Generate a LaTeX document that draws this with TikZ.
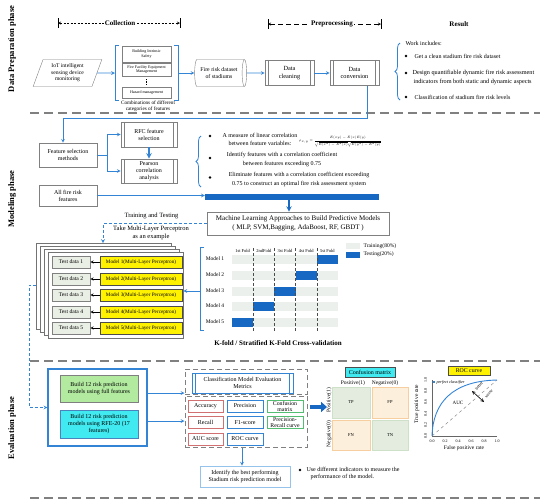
\documentclass[tikz,border=0pt]{standalone}
\usepackage{amsmath}
\usepackage{fontspec}
\setmainfont{Liberation Serif}
\usetikzlibrary{shapes.geometric, decorations.pathreplacing, arrows.meta}

\definecolor{lineblue}{RGB}{52,132,214}
\definecolor{barblue}{RGB}{22,104,194}
\definecolor{bordergray}{RGB}{128,128,128}
\definecolor{trainfill}{RGB}{236,240,236}
\definecolor{testfill}{RGB}{234,239,229}
\definecolor{greenfill}{RGB}{178,234,160}
\definecolor{cyanfill}{RGB}{64,234,240}
\definecolor{redline}{RGB}{208,112,112}
\definecolor{greenline}{RGB}{84,190,112}
\definecolor{paleblue}{RGB}{150,195,235}
\definecolor{tpfill}{RGB}{227,236,223}
\definecolor{tpline}{RGB}{205,224,200}
\definecolor{fpfill}{RGB}{252,239,220}
\definecolor{fpline}{RGB}{247,206,160}

\begin{document}
\begin{tikzpicture}[x=1pt, y=-1pt, font=\fontsize{6}{7}\selectfont,
    flow/.style={draw=lineblue, line width=0.7pt, -stealth},
    flowdash/.style={flow, dash pattern=on 3pt off 2pt},
    phasesep/.style={draw=bordergray, line width=1.2pt, dash pattern=on 9pt off 5pt},
    box/.style={draw=bordergray, fill=white, align=center, inner sep=1pt, line width=0.6pt},
    procbox/.style={box, draw=#1, path picture={\draw[#1, line width=0.5pt] ([xshift=3.5pt]path picture bounding box.north west) -- ([xshift=3.5pt]path picture bounding box.south west) ([xshift=-3.5pt]path picture bounding box.north east) -- ([xshift=-3.5pt]path picture bounding box.south east);}},
    procbox/.default=bordergray,
    featbox/.style={box, minimum width=49pt, inner sep=0.5pt, font=\fontsize{4}{4.6}\selectfont},
    phase/.style={rotate=90, font=\fontsize{8.5}{10}\selectfont\bfseries},
    head/.style={fill=white, inner sep=1pt, font=\fontsize{7}{8}\selectfont\bfseries},
    dot/.style={circle, fill=black, inner sep=0pt, minimum size=2.6pt},
    curly/.style={draw=lineblue, line width=0.8pt, decorate, decoration={brace, amplitude=5pt}},
    stackframe/.style={draw=black!55, fill=white, line width=0.8pt},
    testbox/.style={box, fill=testfill, minimum width=38pt, minimum height=12pt, inner sep=0pt, font=\fontsize{5.6}{6}\selectfont},
    mlpbox/.style={box, draw=black!70, fill=yellow, minimum width=82pt, minimum height=12pt, inner sep=0pt, font=\fontsize{5.2}{6}\selectfont},
    metric/.style={box, draw=#1, line width=0.8pt, minimum width=36pt, minimum height=12pt, inner sep=0pt, font=\fontsize{6}{6}\selectfont},
    cell/.style={draw=#1line, fill=#1fill, line width=0.8pt, minimum height=31pt, inner sep=0pt, font=\fontsize{4.5}{5}\selectfont},
    dashframe/.style={draw=bordergray, line width=1pt, dash pattern=on 5pt off 3pt, inner sep=0pt},
    tick/.style={inner sep=0pt, font=\fontsize{4}{4.5}\selectfont}]
    \useasboundingbox (0,0) rectangle (550,504);

    \node[phase] (prepT) at (12,49) {Data Preparation phase};
    \node[phase] (modT) at (12,199) {Modeling phase};
    \node[phase] (evalT) at (12,428) {Evaluation phase};

    \draw[phasesep] (30,113) -- (540,113);
    \draw[phasesep] (30,361) -- (540,361);
    \draw[phasesep] (30,498) -- (540,498);

    \coordinate (colL) at (58,23);
    \coordinate (colR) at (180,23);
    \draw (58,18) -- (58,28) (180,18) -- (180,28);
    \draw[stealth-stealth, dash pattern=on 2pt off 1.5pt] (colL) -- (colR);
    \node[head] (colT) at (120,23) {Collection};

    \coordinate (preL) at (268,24);
    \coordinate (preR) at (381,24);
    \draw (268,19) -- (268,29) (381,19) -- (381,29);
    \draw[stealth-stealth, dash pattern=on 5pt off 3pt] (preL) -- (preR);
    \node[head] (preT) at (332,24) {Preprocessing};
    \node[head, fill=none] (resT) at (459,24) {Result};

    \node[trapezium, trapezium left angle=70, trapezium right angle=110, trapezium stretches=true, draw=bordergray, minimum width=69pt, minimum height=27pt, align=center, inner sep=0pt, font=\fontsize{5.6}{6.6}\selectfont] (iot) at (67.5,73) {IoT intelligent\\sensing device\\monitoring};

    \node[featbox, minimum height=16pt] (bis) at (146.5,54) {Building Intrinsic\\Safety};
    \node[featbox, minimum height=13pt] (ffe) at (146.5,69.5) {Fire Facility Equipment\\Management};
    \draw[densely dotted, line width=0.6pt] (146.5,79) -- (146.5,85);
    \node[featbox, minimum height=11pt] (haz) at (146.5,92.5) {Hazard management};
    \draw[lineblue, line width=0.8pt] (119,45) -- (115,45) -- (115,100) -- (119,100);
    \draw[lineblue, line width=0.8pt] (174,45) -- (178,45) -- (178,100) -- (174,100);
    \coordinate (grpL) at (115,73);
    \coordinate (grpR) at (178,73);
    \node[align=center, font=\fontsize{5.2}{6}\selectfont] (combo) at (148,106) {Combinations of different\\categories of features};

    \node[cylinder, shape aspect=0.35, draw=bordergray, fill=white, minimum width=27pt, minimum height=52pt, align=center, inner sep=1pt, font=\fontsize{5.8}{6.8}\selectfont] (dataset) at (219,73) {Fire risk dataset\\of stadiums};
    \node[procbox, minimum width=49pt, minimum height=25pt, font=\fontsize{6.3}{7.3}\selectfont] (clean) at (289.5,73) {Data\\cleaning};
    \node[procbox, minimum width=49pt, minimum height=25pt, font=\fontsize{6.3}{7.3}\selectfont] (conv) at (354.5,73) {Data\\conversion};

    \draw[flow] (iot.east) -- (grpL);
    \draw[flow] (grpR) -- (dataset.west);
    \draw[flow] (dataset.east) -- (clean.west);
    \draw[flow] (clean.east) -- (conv.west);

    \draw[curly] (400,100) -- (400,43);
    \node[anchor=west] (work) at (402,43) {Work includes:};
    \node[dot] (d1) at (406,56) {};
    \node[anchor=west] (r1) at (411,56) {Get a clean stadium fire risk dataset};
    \node[dot] (d2) at (406,73) {};
    \node[anchor=west, align=left, font=\fontsize{6.2}{8.8}\selectfont] (r2) at (409,77.5) {Design quantifiable dynamic fire risk assessment\\\hspace{1pt}indicators from both static and dynamic aspects};
    \node[dot] (d3) at (406,97) {};
    \node[anchor=west] (r3) at (411,97) {Classification of stadium fire risk levels};

    \node[box, minimum width=58pt, minimum height=24pt] (fsm) at (68,155) {Feature selection\\methods};
    \node[procbox, minimum width=56pt, minimum height=25pt] (rfc) at (149,134.5) {RFC feature\\selection};
    \node[procbox, minimum width=56pt, minimum height=24pt] (pear) at (149,171) {Pearson\\correlation\\analysis};
    \node[box, minimum width=58pt, minimum height=21pt] (allf) at (68,195.5) {All fire risk\\features};

    \coordinate (turn) at (63,118);
    \draw[flow] ([xshift=12.5pt]conv.south) |- (turn) -- ([xshift=-5pt]fsm.north);
    \draw[flow] (fsm.east) -- ++(10,0) |- (rfc.west);
    \draw[flow] (fsm.east) -- ++(10,0) |- (pear.west);
    \draw[draw=lineblue, line width=1.5pt, -stealth] (rfc) -- (pear);

    \draw[curly] (201,187) -- (201,136);
    \node[dot] (f1) at (210,136) {};
    \node[align=center, font=\fontsize{6}{7.6}\selectfont] (p1) at (260,139.5) {A measure of linear correlation\\between feature variables:};
    \node[anchor=west, inner sep=0pt, font=\fontsize{5}{6}\selectfont] (rho) at (299,142) {\scalebox{0.64}{$\rho_{x,y}=\dfrac{E(xy)-E(x)E(y)}{\sqrt{E(x^2)-E^2(x)}\sqrt{E(y^2)-E^2(y)}}$}};
    \node[dot] (f2) at (210,158) {};
    \node[align=center, font=\fontsize{6}{8.3}\selectfont] (p2) at (282,159.5) {Identify features with a correlation coefficient\\between features exceeding 0.75};
    \node[dot] (f3) at (210,177.5) {};
    \node[align=center, font=\fontsize{6}{8.3}\selectfont] (p3) at (299,179.5) {Eliminate features with a correlation coefficient exceeding\\0.75 to construct an optimal fire risk assessment system};

    \node[fill=barblue, minimum width=174pt, minimum height=6pt, inner sep=0pt] (bar) at (292,196.5) {};
    \draw[flow] (allf.east) -- (allf.east -| bar.west);

    \node[box, minimum width=182pt, minimum height=23pt, font=\fontsize{7}{9}\selectfont] (ml) at (298,223.5) {Machine Learning Approaches to Build Predictive Models\\( MLP, SVM,Bagging, AdaBoost, RF, GBDT )};
    \draw[draw=barblue, line width=1.4pt, -stealth] ([xshift=-3pt]bar.south) -- ([xshift=-9pt]ml.north);

    \coordinate (stackTop) at (103,243);
    \draw[flowdash] (ml.west) -| (stackTop);
    \node[font=\fontsize{6.5}{7.5}\selectfont] (tt) at (151.5,216) {Training and Testing};
    \node[align=center, font=\fontsize{6.5}{7.5}\selectfont] (take) at (151,233) {Take Multi-Layer Perceptron\\as an example};

    \foreach \k in {3,2,1}
        \draw[stackframe] ({48-4*\k},{252-3*\k}) rectangle ++(135,86);
    \node[stackframe, minimum width=135pt, minimum height=86pt, inner sep=0pt] (mlp) at (115.5,295) {};
    \foreach \i/\y in {1/262,2/279,3/295,4/312,5/328} {
        \node[testbox] (t\i) at (71,\y) {Test data \i};
        \node[mlpbox] (m\i) at (141,\y) {Model \i(Multi-Layer Perceptron)};
        \draw[-stealth, line width=0.5pt] (m\i) -- (t\i);
    }

    \draw[lineblue, line width=0.8pt] (204,247) -- (200,247) -- (200,330) -- (204,330);
    \coordinate (kbr) at (200,291);
    \draw[flow] (kbr) -- (kbr -| mlp.east);

    \foreach \i/\y in {1/259,2/275,3/291,4/306,5/322} {
        \node[font=\fontsize{5.5}{6}\selectfont] (km\i) at (215,\y) {Model \i};
        \fill[trainfill] (232,{\y-4.5}) rectangle (338,{\y+4.5});
        \fill[barblue] ({232+(5-\i)*21.2},{\y-4.5}) rectangle ++(21.2,9);
    }
    \foreach \x in {253.2,274.4,295.6,316.8}
        \draw[black!70, densely dashed, line width=0.6pt] (\x,248) -- (\x,331);
    \foreach \t [count=\c] in {1st Fold,2ndFold,3st Fold,4st Fold,5st Fold}
        \node[inner sep=0.5pt, font=\fontsize{4.5}{5}\selectfont] (fold\c) at ({232+(\c-0.5)*21.2},251) {\t};

    \node[fill=trainfill, minimum width=14pt, minimum height=6pt, inner sep=0pt] (legTr) at (353,246) {};
    \node[anchor=west, font=\fontsize{5.5}{6}\selectfont] (legTrT) at (legTr.east) {Training(80\%)};
    \node[fill=barblue, minimum width=14pt, minimum height=6pt, inner sep=0pt] (legTe) at (353,254.5) {};
    \node[anchor=west, font=\fontsize{5.5}{6}\selectfont] (legTeT) at (legTe.east) {Testing(20\%)};

    \node[font=\fontsize{7}{8}\selectfont\bfseries] (kcap) at (278,343) {K-fold / Stratified K-Fold Cross-validation};

    \node[draw=lineblue, line width=1.2pt, minimum width=99pt, minimum height=77pt] (evalbox) at (97.5,407.5) {};
    \node[box, fill=greenfill, minimum width=78pt, minimum height=27pt] (full) at (99,388.5) {Build 12 risk prediction\\models using full features};
    \node[box, draw=lineblue!70!gray, fill=cyanfill, minimum width=78pt, minimum height=28pt] (rfe) at (99,424) {Build 12 risk prediction\\models using RFE-20 (17\\features)};

    \coordinate (stackL) at (36,285);
    \draw[flowdash] (stackL) -- (29,285) |- (evalbox.west);

    \node[dashframe, minimum width=122pt, minimum height=25pt] (metT) at (246,381.5) {};
    \node[dashframe, minimum width=122pt, minimum height=51pt] (metB) at (246,421.5) {};
    \draw[flow] ([yshift=14.5pt]evalbox.east) -- ([yshift=14.5pt]evalbox.east -| metT.west);
    \draw[flow] ([yshift=-13.5pt]evalbox.east) -- ([yshift=-13.5pt]evalbox.east -| metB.west);

    \node[procbox=lineblue, line width=0.8pt, minimum width=101pt, minimum height=20pt] (cmem) at (242.5,383) {Classification Model Evaluation\\Metrics};

    \node[metric=redline, minimum width=35pt] (acc) at (205.5,406) {Accuracy};
    \node[metric=lineblue] (prec) at (245,406) {Precision};
    \node[metric=greenline, font=\fontsize{5.8}{6}\selectfont] (conf) at (285,406) {Confusion\\matrix};
    \node[metric=redline, minimum width=35pt] (rec) at (205.5,422.5) {Recall};
    \node[metric=lineblue] (f1s) at (245,422.5) {F1-score};
    \node[metric=greenline, font=\fontsize{5.8}{6}\selectfont] (prc) at (285,422.5) {Precision-\\Recall curve};
    \node[metric=redline, minimum width=35pt] (aucs) at (205.5,439) {AUC score};
    \node[metric=lineblue] (roc) at (245,439) {ROC curve};

    \node[box, draw=paleblue, line width=0.8pt, minimum width=90pt, minimum height=21pt] (best) at (245,476.5) {Identify the best performing\\Stadium risk prediction model};
    \draw[flow] ([xshift=-4pt]metB.south) -- ([xshift=-4pt]metB.south |- best.north);

    \node[dot] (ed) at (300,470) {};
    \node[anchor=west, align=left, font=\fontsize{6}{7.5}\selectfont] (eT) at (303,473.5) {Use different indicators to measure the\\\hspace{4pt}performance of the model.};

    \node[draw=black!70, fill=cyanfill, minimum width=50pt, minimum height=10pt, inner sep=0pt] (cmT) at (370,372) {Confusion matrix};
    \node[font=\fontsize{5.5}{6}\selectfont] (cpos) at (353,383) {Positive(1)};
    \node[font=\fontsize{5.5}{6}\selectfont] (cneg) at (385,383) {Negative(0)};
    \node[rotate=90, font=\fontsize{5.5}{6}\selectfont] (rpos) at (329,400) {Positive(1)};
    \node[rotate=90, font=\fontsize{5.5}{6}\selectfont] (rneg) at (329,434) {Negative(0)};
    \node[cell=tp, minimum width=38pt] (tp) at (351,402.5) {TP};
    \node[cell=fp, minimum width=36pt] (fp) at (390,402.5) {FP};
    \node[cell=fp, minimum width=38pt, minimum height=30pt] (fn) at (351,435) {FN};
    \node[cell=tp, minimum width=36pt, minimum height=30pt] (tn) at (390,435) {TN};

    \coordinate (cmIn) at (327,407);
    \draw[draw=barblue, line width=3.5pt, -{Triangle[length=6pt, width=10pt]}] ([xshift=2pt]metB.east |- cmIn) -- (cmIn);

    \node[draw=black!70, fill=yellow, minimum width=42pt, minimum height=9pt, inner sep=0pt, font=\fontsize{5.8}{6}\selectfont] (rocT) at (469,370.5) {ROC curve};
    \coordinate (rocO) at (432,436);
    \coordinate (rocX) at (497,436);
    \coordinate (rocY) at (432,380);
    \coordinate (rocE) at (497,380);
    \draw[black!60, line width=0.5pt] (rocY) -- (rocO) -- (rocX);
    \draw[black!45, dashed, line width=0.5pt] (rocO) -- (rocE);
    \draw[lineblue, line width=0.9pt] (rocO) .. controls (433,403) and (452,381) .. (rocE);
    \node[fill=lineblue, inner sep=0pt, minimum size=2.2pt] (perf) at (434,382) {};
    \node[anchor=west, inner sep=1pt, font=\fontsize{4.2}{5}\selectfont\itshape] (perfT) at (perf.east) {perfect classifier};
    \node[font=\fontsize{5}{6}\selectfont] (auc) at (458,403) {AUC};
    \coordinate (bt) at (472,391);
    \coordinate (wr) at (484,402);
    \draw[stealth-stealth, line width=0.6pt] (bt) -- (wr);
    \node[rotate=50, inner sep=0pt, font=\fontsize{4.2}{5}\selectfont] (betT) at (479,386) {better};
    \node[rotate=50, inner sep=0pt, font=\fontsize{4.2}{5}\selectfont] (worT) at (489,394) {worse};
    \foreach \v [count=\c from 0] in {0.0,0.2,0.4,0.6,0.8,1.0} {
        \node[tick] (xt\c) at ({432+\c*13},441.5) {\v};
        \node[tick, rotate=90] (yt\c) at (425.5,{436-\c*11.2}) {\v};
    }
    \node[font=\fontsize{5.5}{6}\selectfont] (fpr) at (464,448.5) {False positive rate};
    \node[rotate=90, font=\fontsize{5.5}{6}\selectfont] (tpr) at (417,404) {True positive rate};
\end{tikzpicture}
\end{document}
